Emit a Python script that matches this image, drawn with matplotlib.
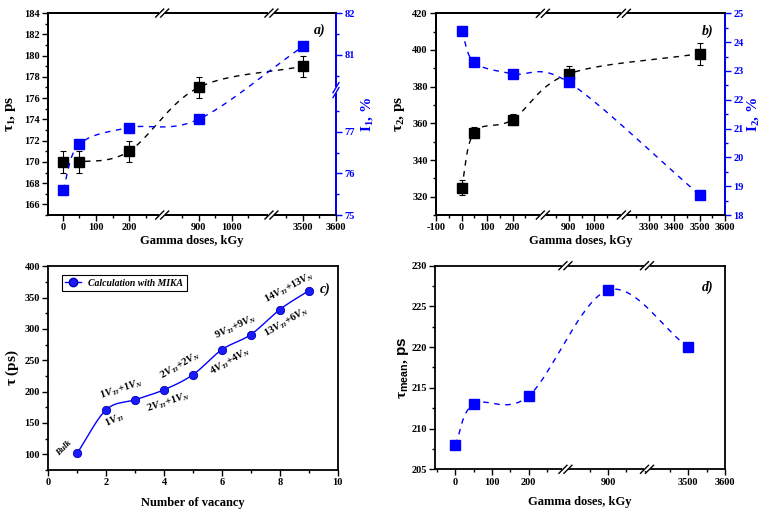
import numpy as np
import matplotlib
matplotlib.use('Agg')
import matplotlib.pyplot as plt
from matplotlib.ticker import FixedLocator, NullFormatter
from matplotlib.lines import Line2D

plt.rcParams['font.family'] = 'Liberation Serif'
plt.rcParams['font.weight'] = 'bold'
plt.rcParams['axes.unicode_minus'] = False
plt.rcParams['mathtext.fontset'] = 'custom'
plt.rcParams['mathtext.rm'] = 'Liberation Serif:bold'
plt.rcParams['mathtext.it'] = 'Liberation Serif:italic:bold'
plt.rcParams['mathtext.bf'] = 'Liberation Serif:bold'
plt.rcParams['mathtext.sf'] = 'Liberation Sans'
plt.rcParams['axes.linewidth'] = 1.3

BLUE = '#0000ff'

# positron lifetime data vs gamma dose
dose = [0, 50, 200, 900, 3500]
tau1 = [170, 170, 171, 177, 179]
tau1_err = [1, 1, 1, 1, 1]
I1 = [75.6, 76.7, 77.1, 77.3, 81.2]
tau2 = [325, 355, 362, 387, 398]
tau2_err = [4, 3, 3, 4, 6]
I2 = [24.4, 23.3, 22.9, 22.6, 18.7]
tau_mean = [208, 213, 214, 227, 220]

# MIKA calculation
vacancy = [1, 2, 3, 4, 5, 6, 7, 8, 9]
tau_mika = [102, 171, 187, 203, 227, 267, 291, 331, 361]
defects = ['Bulk', r'$\mathit{1V_{Ti}}$', r'$\mathit{1V_{Ti}\!+\!1V_N}$',
           r'$\mathit{2V_{Ti}\!+\!1V_N}$', r'$\mathit{2V_{Ti}\!+\!2V_N}$',
           r'$\mathit{4V_{Ti}\!+\!4V_N}$', r'$\mathit{9V_{Ti}\!+\!9V_N}$',
           r'$\mathit{13V_{Ti}\!+\!6V_N}$', r'$\mathit{14V_{Ti}\!+\!13V_N}$']
defect_x = [0.55, 2.28, 2.54, 4.15, 4.56, 6.29, 6.46, 8.25, 8.34]
defect_y = [110, 155, 204, 184, 242, 248, 304, 311, 366]
defect_rot = [45, 25, 18, 18, 30, 30, 25, 30, 28]


def broken_scale(segments):
    """Piecewise-linear scale that keeps only the given data ranges."""
    dk, pk = [], []
    pos = segments[0][0]
    for lo, hi in segments:
        dk += [lo, hi]
        pk += [pos, pos + hi - lo]
        pos += hi - lo
    big = 1e6
    dk = np.array([dk[0] - big] + dk + [dk[-1] + big], float)
    pk = np.array([pk[0] - big] + pk + [pk[-1] + big], float)
    fwd = lambda x: np.interp(x, dk, pk)
    inv = lambda p: np.interp(p, pk, dk)
    return fwd, inv


def smooth_line(ax, x, y, n=40, **kw):
    # Catmull-Rom curve through the points, built in screen space
    pts = ax.transData.transform(np.column_stack([x, y]).astype(float))
    P = np.vstack([2 * pts[0] - pts[1], pts, 2 * pts[-1] - pts[-2]])
    t = np.linspace(0, 1, n)[:, None]
    h00 = 2 * t ** 3 - 3 * t ** 2 + 1
    h10 = t ** 3 - 2 * t ** 2 + t
    h01 = -2 * t ** 3 + 3 * t ** 2
    h11 = t ** 3 - t ** 2
    segs = []
    for i in range(1, len(P) - 2):
        m1 = (P[i + 1] - P[i - 1]) / 2
        m2 = (P[i + 2] - P[i]) / 2
        segs.append(h00 * P[i] + h10 * m1 + h01 * P[i + 1] + h11 * m2)
    curve = ax.transData.inverted().transform(np.vstack(segs))
    ax.plot(curve[:, 0], curve[:, 1], **kw)


def ax_px(ax):
    fig = ax.figure
    bb = ax.get_position()
    return bb.width * fig.get_figwidth() * fig.dpi, bb.height * fig.get_figheight() * fig.dpi


def x_breaks(ax, xf, xlim, vals):
    W, H = ax_px(ax)
    p0, p1 = xf(xlim[0]), xf(xlim[1])
    for v in vals:
        f = (xf(v) - p0) / (p1 - p0)
        for yy in (0, 1):
            ax.plot([f - 3 / W, f + 3 / W], [yy, yy], transform=ax.transAxes,
                    color='white', lw=3, clip_on=False, zorder=5, solid_capstyle='butt')
            for off in (-2.5, 2.5):
                ax.plot([f + (off - 4) / W, f + (off + 4) / W], [yy - 4 / H, yy + 4 / H],
                        transform=ax.transAxes, color='k', lw=1, clip_on=False, zorder=6)


def y_break_right(ax, yf, ylim, v, color):
    W, H = ax_px(ax)
    p0, p1 = yf(ylim[0]), yf(ylim[1])
    f = (yf(v) - p0) / (p1 - p0)
    ax.plot([1, 1], [f - 3 / H, f + 3 / H], transform=ax.transAxes,
            color='white', lw=3, clip_on=False, zorder=5, solid_capstyle='butt')
    for off in (-2.5, 2.5):
        ax.plot([1 - 3 / W, 1 + 3 / W], [f + (off - 5) / H, f + (off + 5) / H],
                transform=ax.transAxes, color=color, lw=1, clip_on=False, zorder=6)


def style_ticks(ax, which_axis, major, minor, color='k'):
    axis = ax.xaxis if which_axis == 'x' else ax.yaxis
    axis.set_major_locator(FixedLocator(major))
    axis.set_minor_locator(FixedLocator(minor))
    axis.set_minor_formatter(NullFormatter())
    ax.tick_params(axis=which_axis, which='major', direction='out', length=4, width=1,
                   labelsize=7.5, colors=color, pad=2)
    ax.tick_params(axis=which_axis, which='minor', direction='out', length=2, width=1,
                   colors=color)


def set_labels(ax, xlabel, xpos, ylabel, ypos, ycolor='k', fs=11):
    if xlabel:
        ax.set_xlabel(xlabel, fontsize=9, fontweight='bold')
        ax.xaxis.label.set_va('center')
        ax.xaxis.set_label_coords(0.5, xpos)
    ax.set_ylabel(ylabel, fontsize=fs, fontweight='bold', color=ycolor, rotation=90)
    ax.yaxis.label.set_va('center')
    ax.yaxis.label.set_ha('center')
    ax.yaxis.set_label_coords(ypos, 0.5)


def panel_tag(ax, x, y, s):
    ax.text(x, y, s, transform=ax.transAxes, fontsize=10, fontweight='bold',
            style='italic', ha='center', va='center')


fig = plt.figure(figsize=(7.65, 5.12), dpi=100)
ax_a = fig.add_axes([0.0627, 0.580, 0.3765, 0.3945])
ax_b = fig.add_axes([0.5700, 0.580, 0.3778, 0.3940])
ax_c = fig.add_axes([0.0631, 0.082, 0.3783, 0.3980])
ax_d = fig.add_axes([0.5686, 0.0834, 0.3790, 0.3977])

sq = dict(marker='s', ms=6.5, ls='none')
dash = dict(ls=(0, (4, 4)), lw=1)

# ---------- a) tau1 and I1 ----------
xa_f, xa_i = broken_scale([(-45, 300), (790, 1120), (3405, 3600)])
ax_a.set_xscale('function', functions=(xa_f, xa_i))
ax_a.set_xlim(-45, 3600)
ax_a.set_ylim(165, 184)
ya_f, ya_i = broken_scale([(75, 78), (80.15, 82)])
ax_a2 = ax_a.twinx()
ax_a2.set_yscale('function', functions=(ya_f, ya_i))
ax_a2.set_ylim(75, 82)

smooth_line(ax_a, dose, tau1, color='k', **dash)
ax_a.errorbar(dose, tau1, yerr=tau1_err, fmt='s', ms=6.5, color='k',
              ecolor='k', elinewidth=0.8, capsize=2, capthick=0.8, zorder=4)
style_ticks(ax_a, 'x', [0, 100, 200, 900, 1000, 3500, 3600],
            [-50, 50, 150, 250, 850, 950, 1050, 3450, 3550])
style_ticks(ax_a, 'y', range(166, 185, 2), range(165, 185, 2))
set_labels(ax_a, 'Gamma doses, kGy', -0.13, r'$\mathbf{\tau_1}$, ps', -0.13)

smooth_line(ax_a2, dose, I1, color=BLUE, **dash)
ax_a2.plot(dose, I1, color=BLUE, **sq)
style_ticks(ax_a2, 'y', [75, 76, 77, 81, 82], [75.5, 76.5, 77.5, 80.5, 81.5], color=BLUE)
ax_a2.spines['right'].set_color(BLUE)
set_labels(ax_a2, None, None, r'$\mathbf{I_1}$, %', 1.107, ycolor=BLUE)
panel_tag(ax_a2, 0.944, 0.915, 'a)')
x_breaks(ax_a2, xa_f, (-45, 3600), [300, 1120])
y_break_right(ax_a2, ya_f, (75, 82), 78, BLUE)

# ---------- b) tau2 and I2 ----------
xb_f, xb_i = broken_scale([(-100, 319), (798, 1116), (3203, 3600)])
ax_b.set_xscale('function', functions=(xb_f, xb_i))
ax_b.set_xlim(-100, 3600)
ax_b.set_ylim(310, 420)
ax_b2 = ax_b.twinx()
ax_b2.set_ylim(18, 25)

smooth_line(ax_b, dose, tau2, color='k', **dash)
ax_b.errorbar(dose, tau2, yerr=tau2_err, fmt='s', ms=6.5, color='k',
              ecolor='k', elinewidth=0.8, capsize=2, capthick=0.8, zorder=4)
style_ticks(ax_b, 'x', [-100, 0, 100, 200, 900, 1000, 3300, 3400, 3500, 3600],
            [-50, 50, 150, 250, 850, 950, 1050, 3250, 3350, 3450, 3550])
style_ticks(ax_b, 'y', range(320, 421, 20), range(310, 421, 20))
set_labels(ax_b, 'Gamma doses, kGy', -0.13, r'$\mathbf{\tau_2}$, ps', -0.125)

smooth_line(ax_b2, dose, I2, color=BLUE, **dash)
ax_b2.plot(dose, I2, color=BLUE, **sq)
style_ticks(ax_b2, 'y', range(18, 26), np.arange(18.5, 25, 1.0), color=BLUE)
ax_b2.spines['right'].set_color(BLUE)
set_labels(ax_b2, None, None, r'$\mathbf{I_2}$, %', 1.097, ycolor=BLUE)
panel_tag(ax_b2, 0.94, 0.91, 'b)')
x_breaks(ax_b2, xb_f, (-100, 3600), [319, 1116])

# ---------- c) MIKA calculation ----------
ax_c.set_xlim(0, 10)
ax_c.set_ylim(75, 400)
smooth_line(ax_c, vacancy, tau_mika, color=BLUE, lw=1)
ax_c.plot(vacancy, tau_mika, 'o', ms=6, color='#1a1aff', mec='#0000b0', mew=0.6)
style_ticks(ax_c, 'x', range(0, 11, 2), range(1, 10, 2))
style_ticks(ax_c, 'y', range(100, 401, 50), range(75, 401, 50))
set_labels(ax_c, 'Number of vacancy', -0.16, r'$\mathbf{\tau}$ (ps)', -0.123)
for lab, x, y, r in zip(defects, defect_x, defect_y, defect_rot):
    ax_c.text(x, y, lab, fontsize=7.5 if lab != 'Bulk' else 6.5, style='italic',
              fontweight='bold', rotation=r, ha='center', va='center',
              rotation_mode='anchor')
panel_tag(ax_c, 0.956, 0.886, 'c)')
h = Line2D([], [], color=BLUE, lw=1, marker='o', ms=6, mfc='#1a1aff', mec='#0000b0')
leg = ax_c.legend([h], ['Calculation with MIKA'], loc='upper left',
                  bbox_to_anchor=(0.046, 0.956), borderaxespad=0, fancybox=False,
                  edgecolor='k', framealpha=1, handlelength=1.6, borderpad=0.35,
                  prop=dict(family='Liberation Serif', style='italic',
                            weight='bold', size=7))
leg.get_frame().set_linewidth(0.8)

# ---------- d) mean lifetime ----------
xd_f, xd_i = broken_scale([(-55, 300), (784, 1006), (3388, 3600)])
ax_d.set_xscale('function', functions=(xd_f, xd_i))
ax_d.set_xlim(-55, 3600)
ax_d.set_ylim(205, 230)
smooth_line(ax_d, dose, tau_mean, color=BLUE, **dash)
ax_d.plot(dose, tau_mean, color=BLUE, marker='s', ms=7.5, ls='none')
style_ticks(ax_d, 'x', [0, 100, 200, 900, 3500, 3600],
            [-50, 50, 150, 250, 850, 950, 1000, 3450, 3550])
style_ticks(ax_d, 'y', range(205, 231, 5), np.arange(207.5, 230, 5))
set_labels(ax_d, 'Gamma doses, kGy', -0.159,
           r'$\mathbf{\tau}_{\mathsf{mean}}$, $\mathsf{ps}$', -0.11)
panel_tag(ax_d, 0.942, 0.894, 'd)')
x_breaks(ax_d, xd_f, (-55, 3600), [300, 1006])

fig.savefig('out.png', dpi=100)
